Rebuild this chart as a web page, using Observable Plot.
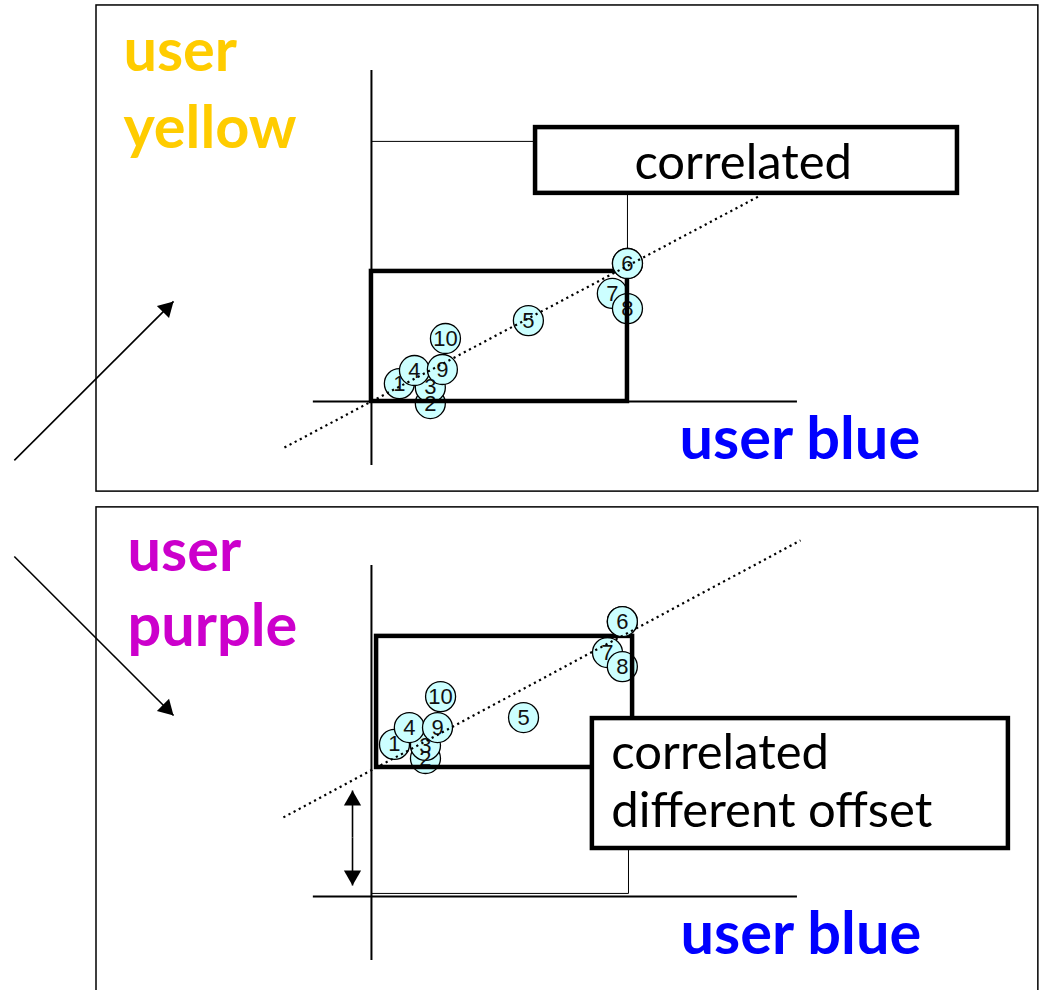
<!DOCTYPE html>
<html><head><meta charset="utf-8">
<script src="https://cdn.jsdelivr.net/npm/d3@7"></script>
<script src="https://cdn.jsdelivr.net/npm/@observablehq/plot@0.6"></script>
<style>body{margin:0;background:#fff} svg{display:block}</style>
</head><body><div id="chart"></div>
<script>
// ---- data (units: one "rating unit"; origin = axis crossing of each panel) ----
const ids = [1, 2, 3, 4, 5, 6, 7, 8, 9, 10];
const blueTop    = [1.09, 2.30, 2.30, 1.68, 6.13, 10.0, 9.41, 10.0, 2.77, 2.89];
const yellowVals = [0.70, -0.08, 0.55, 1.21, 3.16, 5.39, 4.22, 3.63, 1.25, 2.46];
const blueBottom = [0.90, 2.11, 2.11, 1.48, 5.94, 9.80, 9.22, 9.80, 2.58, 2.70];
const purpleVals = [5.94, 5.39, 5.90, 6.60, 6.99, 10.74, 9.53, 8.98, 6.60, 7.81];

const trendTop    = [{x1: -3.40, y1: -1.80, x2: 15.20, y2: 8.05}];
const trendBottom = [{x1: -3.44, y1: 3.09, x2: 16.76, y2: 13.91}];

const rangeTop    = [{x1: 0, x2: 10.0, y1: 0, y2: 5.08}];
const rangeBottom = [{x1: 0.2, x2: 10.2, y1: 5.04, y2: 10.16}];

const guidesTop    = [{x1: 0, y1: 10.16, x2: 6.41, y2: 10.16}, {x1: 10.0, y1: 8.13, x2: 10.0, y2: 5.08}];
const guidesBottom = [{x1: 10.04, y1: 1.875, x2: 10.04, y2: 0.12}, {x1: 0, y1: 0.12, x2: 10.04, y2: 0.12}];

const calloutTop    = [{x1: 6.41, x2: 22.89, y1: 8.13, y2: 10.70, x: 10.27, y: 8.71, text: "correlated"}];
const calloutBottom = [{x1: 8.63, x2: 24.88, y1: 1.875, y2: 6.95, x: 9.37, y: 2.70, text: "correlated\ndifferent offset"}];

const arrowsTop    = [{x1: -13.95, y1: -2.30, x2: -7.73, y2: 3.91}];
const arrowsBottom = [{x1: -13.95, y1: 13.28, x2: -7.73, y2: 7.07}, {x1: -0.74, y1: 2.3, x2: -0.74, y2: 4.14}, {x1: -0.74, y1: 2.3, x2: -0.74, y2: 0.43}];

const framesTop    = [{x1: -10.74, x2: 26.05, y1: -3.52, y2: 15.47}];
const framesBottom = [{x1: -10.74, x2: 26.05, y1: -3.95, y2: 15.20}];

const labelsTop    = [{x: -9.69, y: 9.92, text: "user\nyellow", color: "#FFCC00", lh: 1.28}, {x: 12.03, y: -2.23, text: "user blue", color: "#0000FF", lh: 1.1}];
const labelsBottom = [{x: -9.53, y: 9.80, text: "user\npurple", color: "#CC00CC", lh: 1.26}, {x: 12.07, y: -2.23, text: "user blue", color: "#0000FF", lh: 1.1}];

const AXIS_X = [-2.27, 16.64];
const AXIS_Y = [-2.50, 12.93];

function points(xs, ys) { return ids.map((id, i) => ({id, x: xs[i], y: ys[i]})); }
function heads(arrows) {
  const off = 10 / 25.6;
  return arrows.map(a => {
    const dx = a.x2 - a.x1, dy = a.y2 - a.y1, L = Math.hypot(dx, dy);
    return {x: a.x2 - dx / L * off, y: a.y2 - dy / L * off, rot: Math.atan2(dx, dy) * 180 / Math.PI};
  });
}

function panel(p) {
  const pts = points(p.xs, p.ys);
  const circleStyle = {x: "x", y: "y", r: 15, fill: "#CCFFFF", stroke: "black", strokeWidth: 1.3};
  const numStyle = {x: "x", y: "y", text: "id", fontSize: 22, fill: "#111", fontFamily: "Liberation Sans"};
  return Plot.plot({
    width: 1044, height: 495, margin: 0,
    x: {domain: [-14.49, 26.29], axis: null},
    y: {domain: [-3.672, 15.664], axis: null},
    style: {fontFamily: "Lato, sans-serif", background: "white"},
    marks: [
      Plot.rect(p.frames, {x1: "x1", x2: "x2", y1: "y1", y2: "y2", fill: "none", stroke: "black", strokeWidth: 1.5}),
      Plot.ruleX([0], {y1: AXIS_Y[0], y2: AXIS_Y[1], stroke: "black", strokeWidth: 2}),
      Plot.ruleY([0], {x1: AXIS_X[0], x2: AXIS_X[1], stroke: "black", strokeWidth: 2}),
      Plot.link(p.guides, {x1: "x1", y1: "y1", x2: "x2", y2: "y2", stroke: "black", strokeWidth: 1}),
      Plot.dot(pts, circleStyle),
      Plot.text(pts, numStyle),
      Plot.rect(p.range, {x1: "x1", x2: "x2", y1: "y1", y2: "y2", fill: "none", stroke: "black", strokeWidth: 4.5}),
      Plot.dot(pts.filter(d => d.id === 6), circleStyle),
      Plot.text(pts.filter(d => d.id === 6), numStyle),
      Plot.link(p.trend, {x1: "x1", y1: "y1", x2: "x2", y2: "y2", stroke: "black", strokeWidth: 2.2, strokeDasharray: "2.2,3.6"}),
      Plot.rect(p.callout, {x1: "x1", x2: "x2", y1: "y1", y2: "y2", fill: "white", stroke: "black", strokeWidth: 4.5}),
      Plot.text(p.callout, {x: "x", y: "y", text: "text", textAnchor: "start", lineAnchor: "bottom", fontSize: 49, lineHeight: 1.2, fill: "black"}),
      Plot.link(p.arrows, {x1: "x1", y1: "y1", x2: "x2", y2: "y2", stroke: "black", strokeWidth: 1.6}),
      Plot.dot(heads(p.arrows), {x: "x", y: "y", symbol: "triangle", r: 6.4, rotate: "rot", fill: "black", stroke: "none"}),
      ...p.labels.map(l => Plot.text([l], {x: "x", y: "y", text: "text", textAnchor: "start", lineAnchor: "bottom", fontSize: 59.5, fontWeight: "bold", fill: "color", lineHeight: l.lh}))
    ]
  });
}

const chart = document.getElementById("chart");
chart.append(panel({xs: blueTop, ys: yellowVals, trend: trendTop, range: rangeTop, guides: guidesTop, callout: calloutTop, arrows: arrowsTop, frames: framesTop, labels: labelsTop}));
chart.append(panel({xs: blueBottom, ys: purpleVals, trend: trendBottom, range: rangeBottom, guides: guidesBottom, callout: calloutBottom, arrows: arrowsBottom, frames: framesBottom, labels: labelsBottom}));
</script>
</body></html>
